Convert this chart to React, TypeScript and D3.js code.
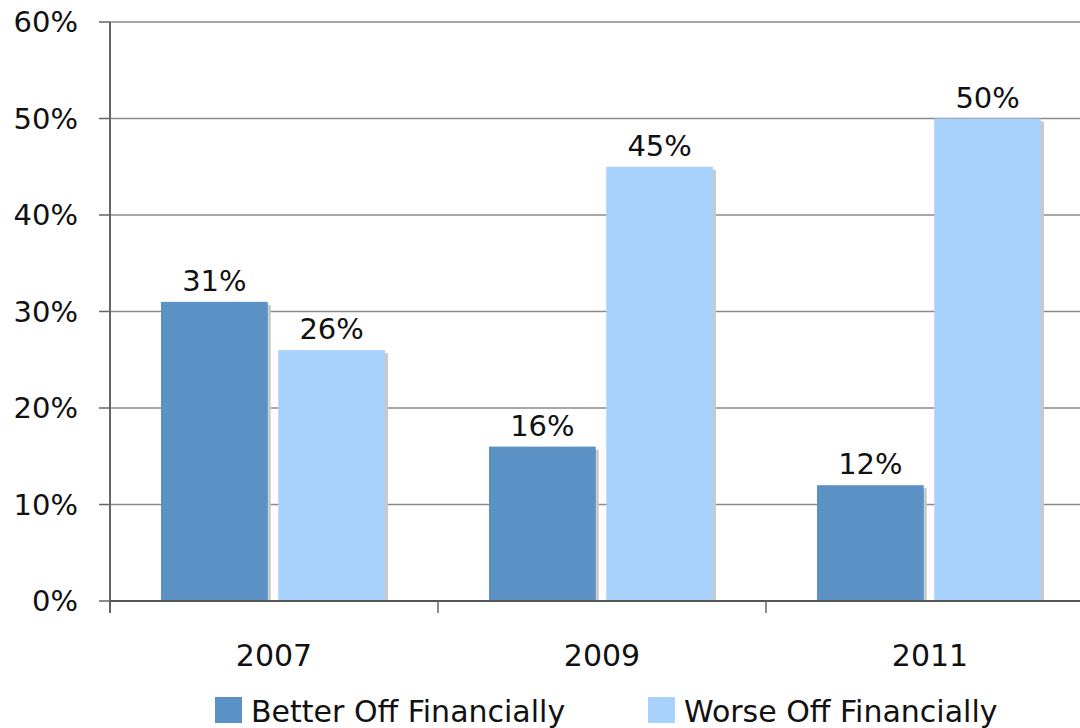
import React from 'react';
import * as d3 from 'd3';

// chart values
const years = ['2007', '2009', '2011'];
const seriesNames = ['Better Off Financially', 'Worse Off Financially'];
const betterOff = [0.31, 0.16, 0.12];
const worseOff = [0.26, 0.45, 0.50];
const yTicks = [0, 0.1, 0.2, 0.3, 0.4, 0.5, 0.6];
const colors = ['#5b91c4', '#a7d2fc'];

const width = 1080;
const height = 728;
const font = 'DejaVu Sans, sans-serif';

const App = () => {
  const margin = { left: 110, top: 22, bottom: 601 };

  // x band for years, last band runs past the right edge like the original
  const x = d3.scaleBand<string>()
    .domain(years)
    .range([margin.left, margin.left + 3 * 328])
    .padding(0);

  const xInner = d3.scaleBand<string>()
    .domain(seriesNames)
    .range([51, 275])
    .paddingInner(0.09);

  const y = d3.scaleLinear()
    .domain([0, 0.6])
    .range([margin.bottom, margin.top]);

  const values = [betterOff, worseOff];
  const fmt = d3.format('.0%');

  const tickXs = years.map(d => x(d)!).concat([x(years[2])! + x.bandwidth()]);
  const legendX = [215, 648];

  return (
    <svg width={width} height={height} style={{ position: 'absolute', left: 0, top: 0, background: '#fff' }}
      fontFamily={font}>
      {/* gridlines */}
      {yTicks.map(t => (
        <g key={t}>
          {t > 0 && (
            <line x1={margin.left} x2={width} y1={y(t)} y2={y(t)} stroke="#8a8a8a" strokeWidth={1.5} />
          )}
          <line x1={margin.left - 11} x2={margin.left} y1={y(t)} y2={y(t)} stroke="#666" strokeWidth={1.5} />
          <text x={78} y={y(t)} dy="0.36em" textAnchor="end" fontSize={29} fill="#111">
            {fmt(t)}
          </text>
        </g>
      ))}

      {/* bars with soft shadow */}
      {years.map((yr, i) => (
        <g key={yr} transform={`translate(${x(yr)},0)`}>
          {seriesNames.map((s, j) => {
            const v = values[j][i];
            const bx = xInner(s)!;
            const bw = xInner.bandwidth();
            return (
              <g key={s}>
                <rect x={bx + 3} y={y(v) + 3} width={bw} height={margin.bottom - y(v) - 3} fill="#c9c9c9" />
                <rect x={bx} y={y(v)} width={bw} height={margin.bottom - y(v)} fill={colors[j]} />
                <text x={bx + bw / 2} y={y(v) - 11} textAnchor="middle" fontSize={29} fill="#111">
                  {fmt(v)}
                </text>
              </g>
            );
          })}
        </g>
      ))}

      {/* axes */}
      <line x1={margin.left} x2={margin.left} y1={margin.top} y2={margin.bottom + 12} stroke="#666" strokeWidth={2} />
      <line x1={margin.left} x2={width} y1={margin.bottom} y2={margin.bottom} stroke="#555" strokeWidth={2} />
      {tickXs.map((tx, i) => (
        <line key={i} x1={tx} x2={tx} y1={margin.bottom} y2={margin.bottom + 12} stroke="#666" strokeWidth={1.5} />
      ))}
      {years.map(yr => (
        <text key={yr} x={x(yr)! + x.bandwidth() / 2} y={666} textAnchor="middle" fontSize={30} fill="#111">
          {yr}
        </text>
      ))}

      {/* legend */}
      {seriesNames.map((s, j) => (
        <g key={s}>
          <rect x={legendX[j]} y={697} width={27} height={26} fill={colors[j]} />
          <text x={legendX[j] + 36} y={722} fontSize={30} fill="#111">{s}</text>
        </g>
      ))}
    </svg>
  );
};

export default App;
